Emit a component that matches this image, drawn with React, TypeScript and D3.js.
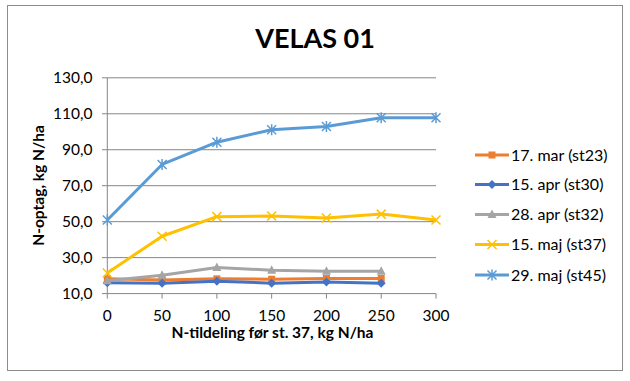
import React from "react";
import * as d3 from "d3";

const xValues = [0, 50, 100, 150, 200, 250, 300];
const seriesNames = ["17. mar (st23)", "15. apr (st30)", "28. apr (st32)", "15. maj (st37)", "29. maj (st45)"];
const mar17 = [18.2, 17.6, 18.2, 18.0, 18.4, 18.4];
const apr15 = [16.0, 15.8, 16.9, 15.8, 16.4, 15.8];
const apr28 = [17.1, 20.2, 24.5, 23.0, 22.4, 22.4];
const maj15 = [21.5, 41.9, 52.8, 53.1, 52.0, 54.2, 50.9];
const maj29 = [50.9, 81.8, 94.2, 101.1, 102.9, 107.8, 107.8];
const yTicks = [10, 30, 50, 70, 90, 110, 130];
const xTicks = [0, 50, 100, 150, 200, 250, 300];
const colors = ["#ED7D31", "#4472C4", "#A5A5A5", "#FFC000", "#5B9BD5"];
const markers = ["square", "diamond", "triangle", "x", "star"];

const seriesValues = [mar17, apr15, apr28, maj15, maj29];

const FONT = "Lato, 'Open Sans', sans-serif";

function Marker({ type, x, y, color }: { type: string; x: number; y: number; color: string }) {
  if (type === "square") {
    return <rect x={x - 3.5} y={y - 3.5} width={7} height={7} fill={color} />;
  }
  if (type === "diamond") {
    return <path d={`M${x},${y - 4.5}L${x + 4.5},${y}L${x},${y + 4.5}L${x - 4.5},${y}Z`} fill={color} />;
  }
  if (type === "triangle") {
    return <path d={`M${x},${y - 5}L${x + 4.5},${y + 3.5}L${x - 4.5},${y + 3.5}Z`} fill={color} />;
  }
  if (type === "x") {
    return (
      <path d={`M${x - 4.5},${y - 4.5}L${x + 4.5},${y + 4.5}M${x - 4.5},${y + 4.5}L${x + 4.5},${y - 4.5}`} stroke={color} strokeWidth={1.5} fill="none" />
    );
  }
  return (
    <path
      d={`M${x - 4.5},${y - 4.5}L${x + 4.5},${y + 4.5}M${x - 4.5},${y + 4.5}L${x + 4.5},${y - 4.5}M${x},${y - 5.5}L${x},${y + 5.5}`}
      stroke={color}
      strokeWidth={1.5}
      fill="none"
    />
  );
}

export default function App() {
  const W = 630;
  const H = 381;
  const x = d3.scaleLinear().domain([0, 300]).range([107.3, 436]);
  const y = d3.scaleLinear().domain([10, 130]).range([293.6, 77.8]);
  const line = d3
    .line<number>()
    .x((_, i) => x(xValues[i]))
    .y((d) => y(d));

  const legendY = [155, 184.5, 214.5, 244.5, 275];
  const tickFs = 15.5;

  return (
    <svg width={W} height={H} style={{ position: "absolute", left: 0, top: 0 }}>
      <rect x={0} y={0} width={W} height={H} fill="#fff" />
      <rect x={7.5} y={5.5} width={615} height={365} fill="#fff" stroke="#8C8C8C" strokeWidth={1} />
      <text x={315} y={48.3} textAnchor="middle" fontFamily={FONT} fontWeight="bold" fontSize={27} fill="#000">
        VELAS 01
      </text>
      {yTicks.map((t) => (
        <g key={t}>
          {t > 10 && <line x1={107.3} x2={436} y1={y(t)} y2={y(t)} stroke="#868686" strokeWidth={1} />}
          <line x1={102} x2={107.3} y1={y(t)} y2={y(t)} stroke="#868686" />
          <text x={92.5} y={y(t) + 5.5} textAnchor="end" fontFamily={FONT} fontSize={tickFs} fill="#000">
            {d3.format(".1f")(t).replace(".", ",")}
          </text>
        </g>
      ))}
      <line x1={107.3} x2={107.3} y1={y(130)} y2={y(10)} stroke="#868686" />
      <line x1={107.3} x2={436} y1={y(10)} y2={y(10)} stroke="#868686" />
      {xTicks.map((t) => (
        <g key={t}>
          <line x1={x(t)} x2={x(t)} y1={y(10)} y2={y(10) + 5} stroke="#868686" />
          <text x={x(t)} y={321} textAnchor="middle" fontFamily={FONT} fontSize={tickFs} fill="#000">
            {t}
          </text>
        </g>
      ))}
      <text x={272.5} y={338} textAnchor="middle" fontFamily={FONT} fontWeight="bold" fontSize={15.5} fill="#000">
        N-tildeling før st. 37, kg N/ha
      </text>
      <text
        transform={`translate(43.5,${185.5}) rotate(-90)`}
        textAnchor="middle"
        fontFamily={FONT}
        fontWeight="bold"
        fontSize={15.5}
        fill="#000"
      >
        N-optag, kg N/ha
      </text>
      {seriesValues.map((vals, si) => (
        <g key={si}>
          <path d={line(vals) || ""} fill="none" stroke={colors[si]} strokeWidth={3} strokeLinejoin="round" />
          {vals.map((v, i) => (
            <Marker key={i} type={markers[si]} x={x(xValues[i])} y={y(v)} color={colors[si]} />
          ))}
        </g>
      ))}
      {seriesNames.map((name, si) => (
        <g key={name}>
          <line x1={475} x2={509} y1={legendY[si]} y2={legendY[si]} stroke={colors[si]} strokeWidth={3} />
          <Marker type={markers[si]} x={492} y={legendY[si]} color={colors[si]} />
          <text x={511} y={legendY[si] + 5.8} fontFamily={FONT} fontSize={16} fill="#000">
            {name}
          </text>
        </g>
      ))}
    </svg>
  );
}
